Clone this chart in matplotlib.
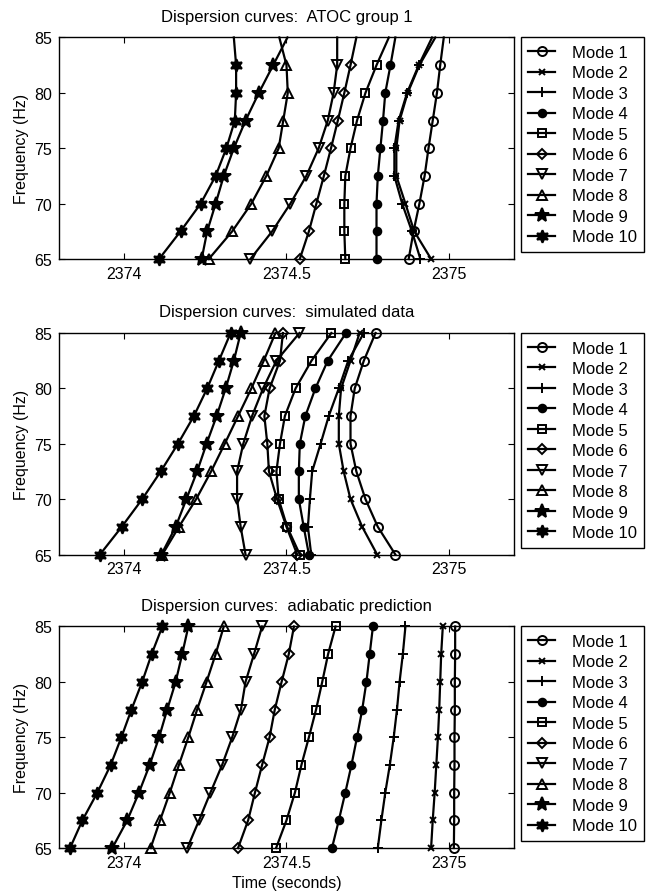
import matplotlib
matplotlib.use("Agg")
from matplotlib import pyplot as plt

plt.rcParams["font.family"] = ["Liberation Sans", "DejaVu Sans"]

freqs = [65, 67.5, 70, 72.5, 75, 77.5, 80, 82.5, 85]
modes = ["Mode %d" % i for i in range(1, 11)]

# arrival times (s) per mode, one value per frequency in freqs
atoc_times = [
    [2374.876, 2374.891, 2374.909, 2374.925, 2374.937, 2374.950, 2374.963, 2374.973, 2374.984],
    [2374.945, 2374.893, 2374.866, 2374.838, 2374.838, 2374.848, 2374.873, 2374.909, 2374.958],
    [2374.912, 2374.886, 2374.856, 2374.832, 2374.832, 2374.845, 2374.871, 2374.907, 2374.948],
    [2374.777, 2374.777, 2374.777, 2374.781, 2374.789, 2374.797, 2374.804, 2374.820, 2374.835],
    [2374.681, 2374.678, 2374.678, 2374.681, 2374.697, 2374.717, 2374.743, 2374.777, 2374.815],
    [2374.541, 2374.569, 2374.592, 2374.615, 2374.637, 2374.658, 2374.678, 2374.697, 2374.715],
    [2374.389, 2374.456, 2374.512, 2374.561, 2374.599, 2374.627, 2374.645, 2374.656, 2374.656],
    [2374.261, 2374.333, 2374.392, 2374.438, 2374.476, 2374.490, 2374.504, 2374.500, 2374.478],
    [2374.239, 2374.256, 2374.282, 2374.307, 2374.338, 2374.374, 2374.415, 2374.459, 2374.503],
    [2374.108, 2374.174, 2374.236, 2374.282, 2374.315, 2374.341, 2374.345, 2374.345, 2374.338],
]

sim_times = [
    [2374.835, 2374.781, 2374.743, 2374.715, 2374.697, 2374.697, 2374.710, 2374.738, 2374.774],
    [2374.779, 2374.733, 2374.697, 2374.676, 2374.661, 2374.661, 2374.668, 2374.697, 2374.725],
    [2374.576, 2374.566, 2374.572, 2374.579, 2374.605, 2374.630, 2374.661, 2374.690, 2374.738],
    [2374.569, 2374.553, 2374.538, 2374.538, 2374.541, 2374.558, 2374.589, 2374.627, 2374.683],
    [2374.541, 2374.502, 2374.476, 2374.469, 2374.480, 2374.495, 2374.528, 2374.577, 2374.638],
    [2374.533, 2374.500, 2374.471, 2374.446, 2374.441, 2374.432, 2374.448, 2374.480, 2374.489],
    [2374.374, 2374.359, 2374.348, 2374.348, 2374.367, 2374.394, 2374.428, 2374.469, 2374.540],
    [2374.118, 2374.169, 2374.222, 2374.268, 2374.310, 2374.351, 2374.392, 2374.430, 2374.466],
    [2374.115, 2374.159, 2374.192, 2374.225, 2374.254, 2374.285, 2374.313, 2374.338, 2374.359],
    [2373.926, 2373.993, 2374.056, 2374.113, 2374.166, 2374.215, 2374.256, 2374.292, 2374.328],
]

adia_times = [
    [2375.015, 2375.016, 2375.016, 2375.017, 2375.017, 2375.018, 2375.018, 2375.019, 2375.019],
    [2374.945, 2374.950, 2374.956, 2374.961, 2374.966, 2374.970, 2374.973, 2374.976, 2374.981],
    [2374.781, 2374.792, 2374.804, 2374.818, 2374.830, 2374.840, 2374.848, 2374.858, 2374.866],
    [2374.640, 2374.661, 2374.681, 2374.700, 2374.717, 2374.733, 2374.746, 2374.756, 2374.766],
    [2374.468, 2374.500, 2374.526, 2374.546, 2374.569, 2374.591, 2374.610, 2374.628, 2374.651],
    [2374.351, 2374.382, 2374.403, 2374.425, 2374.448, 2374.464, 2374.485, 2374.507, 2374.523],
    [2374.195, 2374.231, 2374.266, 2374.302, 2374.333, 2374.360, 2374.374, 2374.400, 2374.425],
    [2374.082, 2374.111, 2374.141, 2374.169, 2374.198, 2374.225, 2374.254, 2374.282, 2374.307],
    [2373.964, 2374.010, 2374.046, 2374.079, 2374.108, 2374.133, 2374.159, 2374.179, 2374.198],
    [2373.834, 2373.872, 2373.918, 2373.959, 2373.992, 2374.023, 2374.056, 2374.085, 2374.118],
]

# matlab-like marker set: o x + . s d v ^ p h
markers = [
    dict(marker="o", ms=6.5, mfc="none"),
    dict(marker="x", ms=5),
    dict(marker="+", ms=7),
    dict(marker=".", ms=11),
    dict(marker="s", ms=5.5, mfc="none"),
    dict(marker="D", ms=5, mfc="none"),
    dict(marker="v", ms=7.5, mfc="none"),
    dict(marker="^", ms=7.5, mfc="none"),
    dict(marker="*", ms=10, mfc="black"),
    dict(marker=(6, 1, 0), ms=9, mfc="black"),
]


def draw_panel(ax, times, title, markevery=None):
    for i, t in enumerate(times):
        ax.plot(t, freqs, color="black", lw=1.6, mec="black", mew=1.4,
                label=modes[i], markevery=markevery, clip_on=False,
                **markers[i])
    ax.set_xlim(2373.8, 2375.2)
    ax.set_ylim(65, 85)
    ax.set_xticks([2374, 2374.5, 2375])
    ax.set_xticklabels(["2374", "2374.5", "2375"])
    ax.set_yticks([65, 70, 75, 80, 85])
    ax.tick_params(direction="in", top=True, right=True, length=4,
                   width=0.8, labelsize=11.5, pad=5)
    for s in ax.spines.values():
        s.set_linewidth(1.0)
    ax.set_title(title, fontsize=12, pad=12)
    ax.set_ylabel("Frequency (Hz)", fontsize=11.5, labelpad=4)
    leg = ax.legend(loc="upper left", bbox_to_anchor=(1.0154, 1.0),
                    borderaxespad=0, fontsize=12, frameon=True,
                    fancybox=False, framealpha=1, edgecolor="black",
                    labelspacing=0.33, handlelength=1.6, handletextpad=1.0,
                    borderpad=0.45)
    leg.get_frame().set_linewidth(1.0)


fig = plt.figure(figsize=(6.57, 8.95), dpi=100)
left, width, height = 0.0898, 0.6925, 0.2475

ax1 = fig.add_axes([left, 0.7095, width, height])
draw_panel(ax1, atoc_times, "Dispersion curves:  ATOC group 1",
           markevery=slice(0, 8))

ax2 = fig.add_axes([left, 0.3793, width, height])
draw_panel(ax2, sim_times, "Dispersion curves:  simulated data")

ax3 = fig.add_axes([left, 0.0514, width, height])
draw_panel(ax3, adia_times, "Dispersion curves:  adiabatic prediction")
ax3.set_xlabel("Time (seconds)", fontsize=11.5, labelpad=4)

plt.savefig("out.png", dpi=100)
